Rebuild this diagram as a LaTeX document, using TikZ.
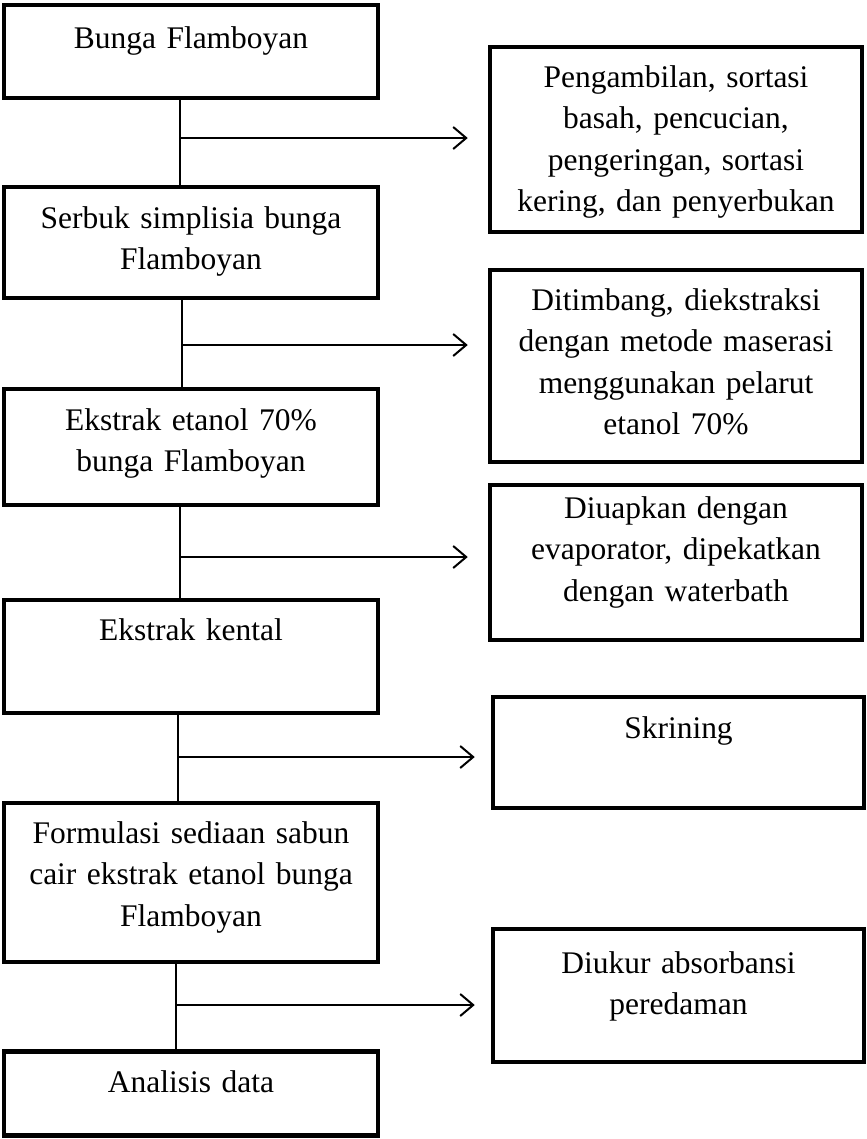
\documentclass[tikz,border=0pt]{standalone}
\usepackage{fontspec}
\setmainfont{Liberation Serif}
\usetikzlibrary{arrows.meta}

\begin{document}
\begin{tikzpicture}[x=1bp,y=-1bp]

      \useasboundingbox (0,0) rectangle (867,1139);

      \begin{scope}[every node/.style={draw,rectangle,line width=4.5bp,inner sep=0pt,
          text width=360bp,align=center,font=\fontsize{31.6pt}{41.8pt}\selectfont}]
        \node[minimum width=374bp,text height=43bp,text depth=50bp]  (1)  at (191,51.5)  {Bunga Flamboyan};
        \node[minimum width=374bp,text height=41bp,text depth=70bp]  (2)  at (191,242.5) {Serbuk simplisia bunga\\Flamboyan};
        \node[minimum width=374bp,text height=41bp,text depth=75bp]  (3)  at (191,447)   {Ekstrak etanol 70\%\\bunga Flamboyan};
        \node[minimum width=374bp,text height=40bp,text depth=73bp]  (4)  at (191,656.5) {Ekstrak kental};
        \node[minimum width=374bp,text height=40bp,text depth=119bp] (5)  at (191,882.5) {Formulasi sediaan sabun\\cair ekstrak etanol bunga\\Flamboyan};
        \node[minimum width=374bp,text height=41bp,text depth=43bp]  (6)  at (191,1093.5) {Analisis data};

        \node[minimum width=372bp,text height=40bp,text depth=145bp] (7)  at (676,139.5) {Pengambilan, sortasi\\basah, pencucian,\\pengeringan, sortasi\\kering, dan penyerbukan};
        \node[minimum width=372bp,text height=40bp,text depth=152bp] (8)  at (676,366)   {Ditimbang, diekstraksi\\dengan metode maserasi\\menggunakan pelarut\\etanol 70\%};
        \node[minimum width=372bp,text height=33bp,text depth=122bp] (9)  at (676,562.5) {Diuapkan dengan\\evaporator, dipekatkan\\dengan waterbath};
        \node[minimum width=371bp,text height=41bp,text depth=70bp]  (10) at (678.5,752.5) {Skrining};
        \node[minimum width=371bp,text height=44bp,text depth=89bp]  (11) at (678.5,995.5) {Diukur absorbansi\\peredaman};
      \end{scope}

      % branch points on the main line
      \coordinate (s1) at (180,138);
      \coordinate (s2) at (182,345);
      \coordinate (s3) at (180,557);
      \coordinate (s4) at (178,757);
      \coordinate (s5) at (176,1005);

      \begin{scope}[line width=2bp]

        \begin{scope}[every edge/.style={draw}]
          \path ([xshift=-11bp]1.south) edge ([xshift=-11bp]2.north);
          \path ([xshift=-9bp]2.south)  edge ([xshift=-9bp]3.north);
          \path ([xshift=-11bp]3.south) edge ([xshift=-11bp]4.north);
          \path ([xshift=-13bp]4.south) edge ([xshift=-13bp]5.north);
          \path ([xshift=-15bp]5.south) edge ([xshift=-15bp]6.north);
        \end{scope}

        \begin{scope}[every edge/.style={draw,-{Straight Barb[length=13bp,width=22bp]}}]
          \path (s1) edge[shorten >=20bp] (s1 -| 7.west);
          \path (s2) edge[shorten >=20bp] (s2 -| 8.west);
          \path (s3) edge[shorten >=20bp] (s3 -| 9.west);
          \path (s4) edge[shorten >=16bp] (s4 -| 10.west);
          \path (s5) edge[shorten >=16bp] (s5 -| 11.west);
        \end{scope}

      \end{scope}

    \end{tikzpicture}
\end{document}
